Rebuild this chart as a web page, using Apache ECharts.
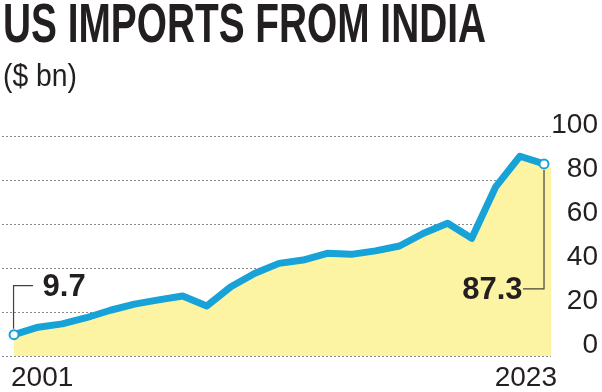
<!DOCTYPE html>
<html><head><meta charset="utf-8">
<script src="https://cdn.jsdelivr.net/npm/echarts@6/dist/echarts.min.js"></script>
<style>html,body{margin:0;padding:0;background:#fff}#c{width:602px;height:392px}</style>
</head><body><div id="c"></div>
<script>
// ---------- data ----------
const years = [2001,2002,2003,2004,2005,2006,2007,2008,2009,2010,2011,2012,2013,2014,2015,2016,2017,2018,2019,2020,2021,2022,2023];
const imports = [9.7,13.1,14.6,17.4,20.8,23.6,25.5,27.3,22.7,31.5,37.6,42.1,43.6,46.7,46.2,47.8,50.0,55.8,60.3,53.5,77.0,90.8,87.3];
const yTicks = [0,20,40,60,80,100];
const xTickLabels = [2001, 2023];
const titleText = 'US IMPORTS FROM INDIA';
const subtitleText = '($ bn)';

// ---------- font selection (narrowest installed condensed face) ----------
const cv = document.createElement('canvas').getContext('2d');
function measure(style, weight, size, family, txt) {
  cv.font = '10px serif';
  cv.font = [style, weight, size + 'px', family].join(' ');
  return cv.measureText(txt).width;
}
const candidates = [
  {style:'extra-condensed', family:'"Noto Sans"'},
  {style:'normal', family:'"Noto Sans ExtraCondensed"'},
  {style:'condensed', family:'"Noto Sans"'},
  {style:'normal', family:'"Noto Sans Condensed"'},
  {style:'semi-condensed', family:'"Noto Sans"'},
  {style:'normal', family:'"Liberation Sans Narrow"'},
  {style:'normal', family:'"DejaVu Sans Condensed"'},
  {style:'normal', family:'"Liberation Sans"'}
];
const probe = 'IMPORTS 2001 bn';
const monoW = measure('normal', 'normal', 100, 'monospace', probe);
function installed(c) {
  const w = measure(c.style, 'normal', 100, c.family + ', monospace', probe);
  if (Math.abs(w - monoW) < 1) return false;
  if (c.style !== 'normal') {
    const plain = measure('normal', 'normal', 100, c.family + ', monospace', probe);
    return w < plain - 1;
  }
  return true;
}
let best = candidates[candidates.length - 1], bestW = Infinity;
candidates.forEach(c => {
  if (!installed(c)) return;
  const w = measure(c.style, 'normal', 100, c.family + ', sans-serif', '2001');
  if (w < bestW - 0.5) { bestW = w; best = c; }
});
const FAM = best.family + ', sans-serif';
const F = { fontStyle: best.style, fontFamily: FAM };

const INK = '#231f20';
const BLUE = '#17a2d8';
const FILL = '#fcf4a3';
const GRID = '#8a8a8a';
const LEADER = '#45413a';

const xMin = 2000.5, xMax = 2023.29;

const axisFont = 28;
const wA = measure(best.style, 'normal', axisFont, FAM, String(xTickLabels[0]));
const wB = measure(best.style, 'normal', axisFont, FAM, String(xTickLabels[1]));
const padA = Math.max(0, wA - 6);
const padB = Math.max(0, wB - 26);

const titleSize = 55;
const titleScale = 483 / measure(best.style, 'bold', titleSize, FAM, titleText);
const subSize = 32;
const subScale = 74 / measure(best.style, 'normal', subSize, FAM, subtitleText);

const n = years.length;
const seriesData = years.map((y, i) => {
  const item = { value: [y, imports[i]] };
  if (i === 0 || i === n - 1) {
    item.symbol = 'emptyCircle';
    item.symbolSize = 9;
    item.label = {
      show: true,
      position: i === 0 ? 'right' : 'left',
      distance: 0,
      offset: i === 0 ? [23, -47] : [-16, 127],
      formatter: p => p.value[1].toFixed(1),
      fontSize: 31, fontWeight: 'bold', color: INK, ...F
    };
  }
  return item;
});

const chart = echarts.init(document.getElementById('c'), null, { renderer: 'canvas' });
const option = {
  animation: false,
  backgroundColor: '#fff',
  grid: { left: 2, right: 51, top: 136, bottom: 36, containLabel: false, outerBoundsMode: 'none' },
  xAxis: {
    type: 'value', min: xMin, max: xMax,
    axisLine: { show: false }, axisTick: { show: false }, splitLine: { show: false },
    axisLabel: {
      customValues: xTickLabels,
      margin: 11,
      formatter: v => (v === xTickLabels[0] ? '{a|' + v + '}' : '{b|' + v + '}'),
      rich: {
        a: { fontSize: axisFont, lineHeight: 22, color: INK, ...F, padding: [0, 0, 0, padA] },
        b: { fontSize: axisFont, lineHeight: 22, color: INK, ...F, padding: [0, padB, 0, 0] }
      }
    }
  },
  yAxis: {
    type: 'value', position: 'right', min: yTicks[0], max: yTicks[yTicks.length - 1], interval: yTicks[1] - yTicks[0],
    axisLine: { show: false }, axisTick: { show: false },
    splitLine: { show: true, lineStyle: { color: GRID, width: 1, type: [2, 2] } },
    axisLabel: {
      fontSize: axisFont, color: INK, ...F, align: 'right', margin: 47,
      verticalAlign: 'bottom', lineHeight: 21
    }
  },
  series: [{
    type: 'line',
    data: seriesData,
    symbol: 'none',
    itemStyle: { color: BLUE, borderWidth: 3 },
    lineStyle: { color: BLUE, width: 7, join: 'round', cap: 'round' },
    areaStyle: { color: FILL, opacity: 1 },
    markArea: {
      silent: true,
      itemStyle: { color: FILL, opacity: 1 },
      label: { show: false },
      data: [[{ coord: [years[n - 1], 0] }, { coord: [xMax, imports[n - 1] - 1.5] }]]
    },
    z: 3
  }],
  graphic: [
    { type: 'text', x: 3, y: 27, scaleX: titleScale, z: 10,
      style: { text: titleText, fontSize: titleSize, fontWeight: 'bold', ...F, fill: INK, align: 'left', verticalAlign: 'middle' } },
    { type: 'text', x: 3, y: 77, scaleX: subScale, z: 10,
      style: { text: subtitleText, fontSize: subSize, ...F, fill: INK, align: 'left', verticalAlign: 'middle' } }
  ]
};
chart.setOption(option);

// connector lines for the two annotated values
const p0 = chart.convertToPixel({ seriesIndex: 0 }, [years[0], imports[0]]);
const pN = chart.convertToPixel({ seriesIndex: 0 }, [years[n - 1], imports[n - 1]]);
chart.setOption({
  graphic: [
    { id: 'c0', type: 'polyline', z: 10, silent: true,
      shape: { points: [[p0[0] - 0.5, p0[1] - 6], [p0[0] - 0.5, p0[1] - 49], [p0[0] + 19, p0[1] - 49]] },
      style: { stroke: LEADER, lineWidth: 1.2, fill: null } },
    { id: 'c1', type: 'polyline', z: 10, silent: true,
      shape: { points: [[pN[0], pN[1] + 6], [pN[0], pN[1] + 125], [pN[0] - 21, pN[1] + 125]] },
      style: { stroke: LEADER, lineWidth: 1.2, fill: null } }
  ]
});
</script>
</body></html>
